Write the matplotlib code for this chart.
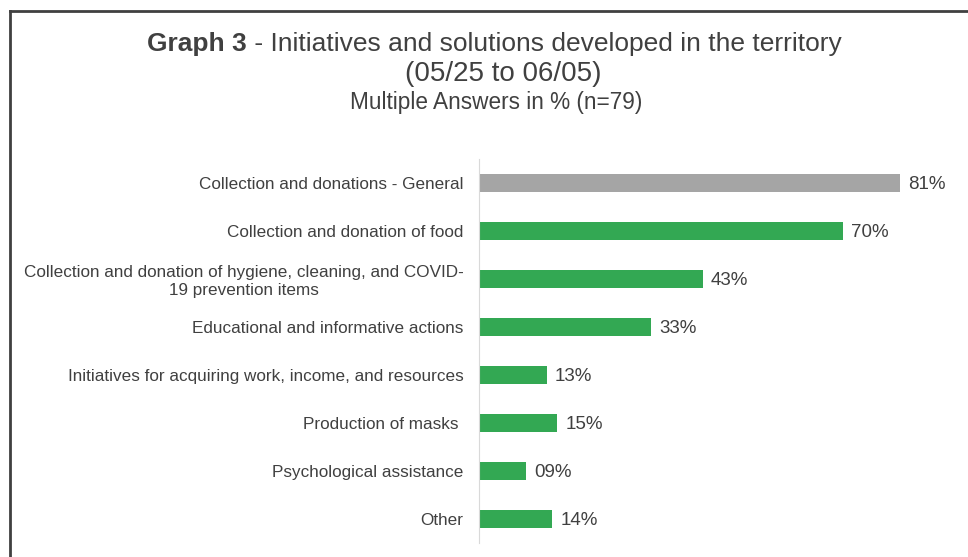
import matplotlib.pyplot as plt

plt.rcParams['font.family'] = ['Liberation Sans', 'DejaVu Sans']

categories = [
    "Collection and donations - General",
    "Collection and donation of food",
    "Collection and donation of hygiene, cleaning, and COVID-\n19 prevention items",
    "Educational and informative actions",
    "Initiatives for acquiring work, income, and resources",
    "Production of masks ",
    "Psychological assistance",
    "Other",
]
values = [81, 70, 43, 33, 13, 15, 9, 14]
colors = ["#a5a5a5"] + ["#33a853"] * 7
txt = "#404040"

W, H = 968, 557
fig = plt.figure(figsize=(W / 100, H / 100), dpi=100)
ax = fig.add_axes([479 / W, (H - 543) / H, (962 - 479) / W, 384 / H])

ypos = list(range(len(categories)))
ax.barh(ypos, values, height=0.36, color=colors)
ax.set_ylim(len(categories) - 0.5, -0.5)
ax.set_xlim(0, (962 - 479) / 5.2)

for y, v in zip(ypos, values):
    ax.annotate(f"{v:02d}%", (v, y), xytext=(6, -1), textcoords="offset points",
                va="center", ha="left", fontsize=13.5, color=txt)

ax.set_yticks(ypos)
ax.set_yticklabels(categories, fontsize=12.3, color=txt)
for lab in ax.get_yticklabels():
    lab.set_multialignment("center")
ax.tick_params(axis="y", length=0, pad=11)
ax.set_xticks([])
for s in ["top", "right", "bottom"]:
    ax.spines[s].set_visible(False)
ax.spines["left"].set_color("#d9d9d9")

# title
t1 = fig.text(147 / W, 1 - 44 / H, "Graph 3", fontsize=19, fontweight="bold",
              color=txt, ha="left", va="center")
ax.annotate(" - Initiatives and solutions developed in the territory", xy=(1, 0.5),
            xycoords=t1, ha="left", va="center", fontsize=19, color=txt)
fig.text(0.52, 1 - 74 / H, "(05/25 to 06/05)", fontsize=20, color=txt,
         ha="center", va="center")
fig.text(0.513, 1 - 103 / H, "Multiple Answers in % (n=79)", fontsize=16.3, color=txt,
         ha="center", va="center")

# frame
fig.add_artist(plt.Line2D([9.5 / W, 9.5 / W], [0, 1 - 10.5 / H], color="#404040",
                          lw=2, transform=fig.transFigure))
fig.add_artist(plt.Line2D([9.5 / W, 1], [1 - 10.5 / H, 1 - 10.5 / H], color="#404040",
                          lw=2, transform=fig.transFigure))

plt.savefig("out.png", dpi=100)
